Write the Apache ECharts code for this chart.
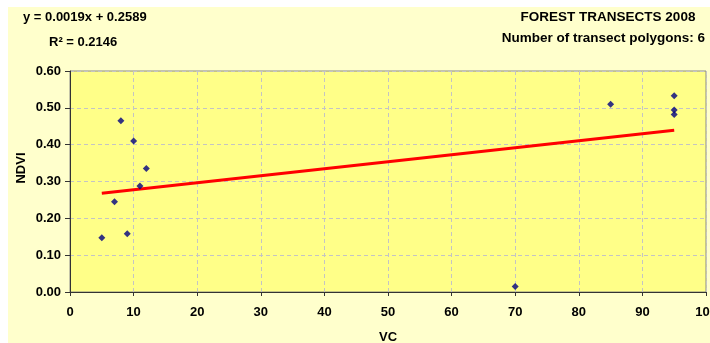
<!DOCTYPE html>
<html>
<head>
<meta charset="utf-8">
<script src="https://cdn.jsdelivr.net/npm/echarts@6/dist/echarts.min.js"></script>
<style>
  html, body { margin: 0; padding: 0; background: #ffffff; }
  #chart { width: 710px; height: 343px; }
</style>
</head>
<body>
<div id="chart"></div>
<script>
// Vegetation cover (VC, %) vs NDVI for forest transects
const vcValues   = [5, 7, 8, 9, 10, 11, 12, 70, 85, 95, 95, 95];
const ndviValues = [0.147, 0.245, 0.465, 0.158, 0.41, 0.288, 0.335, 0.015, 0.51, 0.533, 0.494, 0.482];

// Linear trend line coefficients (y = slope * x + intercept)
const trendSlope = 0.0019;
const trendIntercept = 0.2589;
const trendR2 = 0.2146;
const trendRange = [5, 95];

const xTicks = { min: 0, max: 100, interval: 10 };
const yTicks = { min: 0, max: 0.6, interval: 0.1 };

const titleLines = ['FOREST TRANSECTS 2008', 'Number of transect polygons: 6'];

const points = vcValues.map((x, i) => [x, ndviValues[i]]);
const trendPoints = trendRange.map(x => [x, trendSlope * x + trendIntercept]);

const FONT = '"Liberation Sans", Arial, sans-serif';
const labelFont = { fontFamily: FONT, fontSize: 13, fontWeight: 'bold', color: '#000' };

const chart = echarts.init(document.getElementById('chart'), null, { renderer: 'canvas' });
chart.setOption({
  animation: false,
  backgroundColor: 'transparent',
  graphic: [
    { type: 'rect', z: -10, shape: { x: 8, y: 7, width: 702, height: 336 }, style: { fill: '#FFFFCC' } },
    { type: 'text', x: 23, y: 17, style: { text: 'y = ' + trendSlope.toFixed(4) + 'x + ' + trendIntercept.toFixed(4), fill: '#000', font: 'bold 13px ' + FONT, verticalAlign: 'middle' } },
    { type: 'text', x: 49, y: 42, style: { text: 'R² = ' + trendR2.toFixed(4), fill: '#000', font: 'bold 13px ' + FONT, verticalAlign: 'middle' } },
    { type: 'text', x: 608, y: 17, style: { text: titleLines[0], fill: '#000', font: 'bold 13.5px ' + FONT, align: 'center', verticalAlign: 'middle' } },
    { type: 'text', x: 705, y: 38, style: { text: titleLines[1], fill: '#000', font: 'bold 13.5px ' + FONT, align: 'right', verticalAlign: 'middle' } },
    { type: 'text', x: 21, y: 168, rotation: Math.PI / 2, style: { text: 'NDVI', fill: '#000', font: 'bold 13px ' + FONT, align: 'center', verticalAlign: 'middle' } }
  ],
  grid: {
    left: 70, right: 4, top: 71, bottom: 51,
    outerBoundsMode: 'none', containLabel: false,
    show: true, backgroundColor: '#FFFF88', borderColor: '#888888', borderWidth: 1
  },
  xAxis: {
    type: 'value', min: xTicks.min, max: xTicks.max, interval: xTicks.interval,
    name: 'VC', nameLocation: 'middle', nameGap: 39,
    nameTextStyle: labelFont,
    axisLine: { show: true, onZero: false, lineStyle: { color: '#333', width: 1 } },
    axisTick: { show: true, length: 4, lineStyle: { color: '#333' } },
    axisLabel: Object.assign({ margin: 14 }, labelFont),
    splitLine: { show: true, lineStyle: { color: '#C4C4C4', type: [4, 3], width: 1 } }
  },
  yAxis: {
    type: 'value', min: yTicks.min, max: yTicks.max, interval: yTicks.interval,
    axisLine: { show: true, onZero: false, lineStyle: { color: '#333', width: 1 } },
    axisTick: { show: true, length: 5, lineStyle: { color: '#333' } },
    axisLabel: Object.assign({ margin: 9, formatter: v => v.toFixed(2) }, labelFont),
    splitLine: { show: true, lineStyle: { color: '#C4C4C4', type: [4, 3], width: 1 } }
  },
  series: [
    {
      type: 'line', data: trendPoints, symbol: 'none', z: 2,
      lineStyle: { color: '#FF0000', width: 3 }
    },
    {
      type: 'scatter', data: points, symbol: 'diamond', symbolSize: 7, z: 3,
      itemStyle: { color: '#000080' }
    }
  ]
});
</script>
</body>
</html>
